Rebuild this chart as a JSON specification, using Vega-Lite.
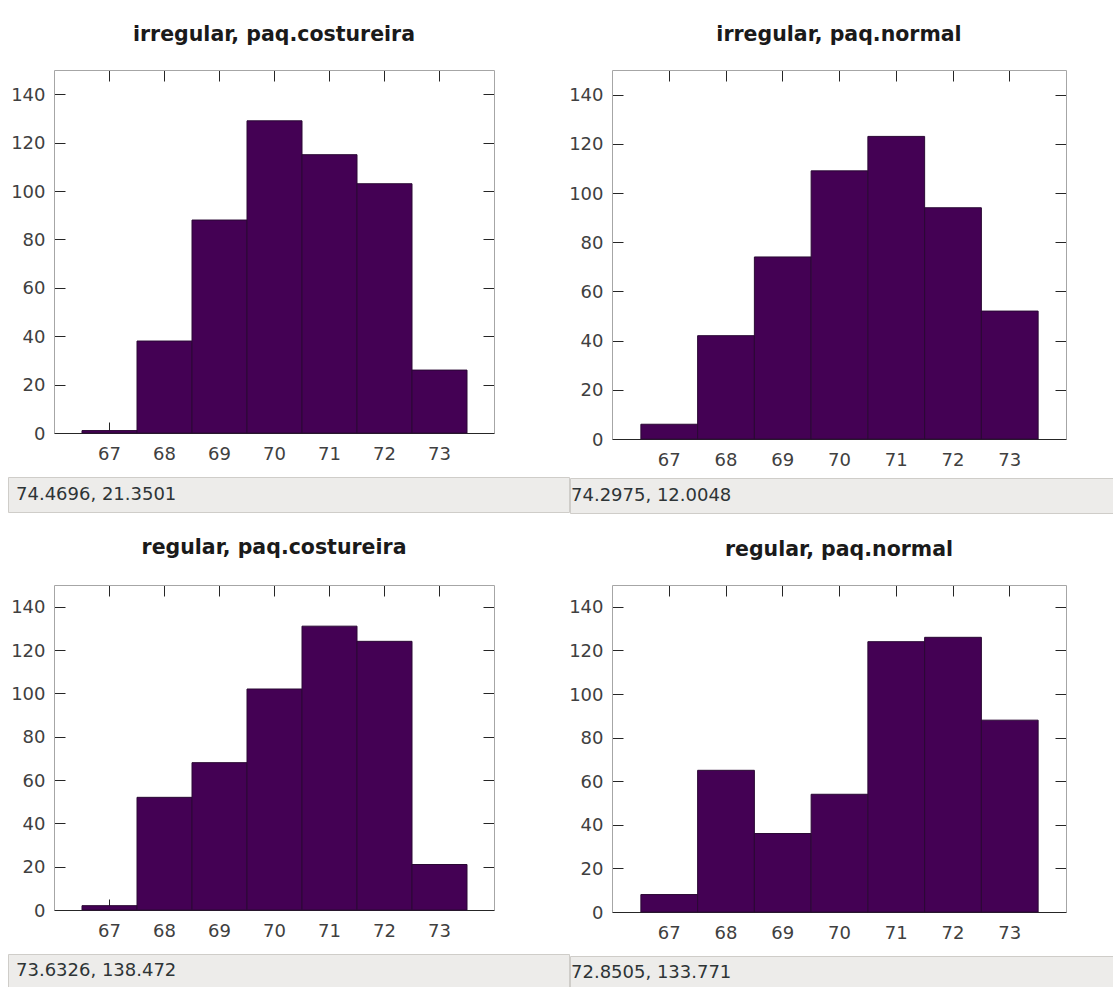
{
  "$schema": "https://vega.github.io/schema/vega-lite/v6.json",
  "padding": {"left": 7, "top": 25, "right": 0, "bottom": 0},
  "background": "white",
  "config": {
    "font": "DejaVu Sans",
    "view": {"stroke": null},
    "axis": {"grid": false, "title": null, "tickColor": "#262626", "tickWidth": 1, "labelColor": "#404040", "labelFontSize": 18, "labelFont": "DejaVu Sans", "domainColor": "#a6a6a6", "domainWidth": 1},
    "title": {"font": "DejaVu Sans", "fontSize": 20.5, "fontWeight": "bold", "color": "#1a1a1a", "frame": "group", "anchor": "middle", "baseline": "alphabetic", "offset": 26}
  },
  "datasets": {
    "bars": [
      {"panel": "irregular, paq.costureira", "bin_start": 66.5, "bin_end": 67.5, "count": 1},
      {"panel": "irregular, paq.costureira", "bin_start": 67.5, "bin_end": 68.5, "count": 38},
      {"panel": "irregular, paq.costureira", "bin_start": 68.5, "bin_end": 69.5, "count": 88},
      {"panel": "irregular, paq.costureira", "bin_start": 69.5, "bin_end": 70.5, "count": 129},
      {"panel": "irregular, paq.costureira", "bin_start": 70.5, "bin_end": 71.5, "count": 115},
      {"panel": "irregular, paq.costureira", "bin_start": 71.5, "bin_end": 72.5, "count": 103},
      {"panel": "irregular, paq.costureira", "bin_start": 72.5, "bin_end": 73.5, "count": 26},
      {"panel": "irregular, paq.normal", "bin_start": 66.5, "bin_end": 67.5, "count": 6},
      {"panel": "irregular, paq.normal", "bin_start": 67.5, "bin_end": 68.5, "count": 42},
      {"panel": "irregular, paq.normal", "bin_start": 68.5, "bin_end": 69.5, "count": 74},
      {"panel": "irregular, paq.normal", "bin_start": 69.5, "bin_end": 70.5, "count": 109},
      {"panel": "irregular, paq.normal", "bin_start": 70.5, "bin_end": 71.5, "count": 123},
      {"panel": "irregular, paq.normal", "bin_start": 71.5, "bin_end": 72.5, "count": 94},
      {"panel": "irregular, paq.normal", "bin_start": 72.5, "bin_end": 73.5, "count": 52},
      {"panel": "regular, paq.costureira", "bin_start": 66.5, "bin_end": 67.5, "count": 2},
      {"panel": "regular, paq.costureira", "bin_start": 67.5, "bin_end": 68.5, "count": 52},
      {"panel": "regular, paq.costureira", "bin_start": 68.5, "bin_end": 69.5, "count": 68},
      {"panel": "regular, paq.costureira", "bin_start": 69.5, "bin_end": 70.5, "count": 102},
      {"panel": "regular, paq.costureira", "bin_start": 70.5, "bin_end": 71.5, "count": 131},
      {"panel": "regular, paq.costureira", "bin_start": 71.5, "bin_end": 72.5, "count": 124},
      {"panel": "regular, paq.costureira", "bin_start": 72.5, "bin_end": 73.5, "count": 21},
      {"panel": "regular, paq.normal", "bin_start": 66.5, "bin_end": 67.5, "count": 8},
      {"panel": "regular, paq.normal", "bin_start": 67.5, "bin_end": 68.5, "count": 65},
      {"panel": "regular, paq.normal", "bin_start": 68.5, "bin_end": 69.5, "count": 36},
      {"panel": "regular, paq.normal", "bin_start": 69.5, "bin_end": 70.5, "count": 54},
      {"panel": "regular, paq.normal", "bin_start": 70.5, "bin_end": 71.5, "count": 124},
      {"panel": "regular, paq.normal", "bin_start": 71.5, "bin_end": 72.5, "count": 126},
      {"panel": "regular, paq.normal", "bin_start": 72.5, "bin_end": 73.5, "count": 88}
    ],
    "status": [
      {"panel": "irregular, paq.costureira", "status": "74.4696, 21.3501"},
      {"panel": "irregular, paq.normal", "status": "74.2975, 12.0048"},
      {"panel": "regular, paq.costureira", "status": "73.6326, 138.472"},
      {"panel": "regular, paq.normal", "status": "72.8505, 133.771"}
    ]
  },
  "spacing": 24,
  "vconcat": [
    {
      "spacing": -2,
      "hconcat": [
        {
          "spacing": 7,
          "vconcat": [
            {
              "width": 486, "height": 363,
              "title": {"text": "irregular, paq.costureira", "dx": 23, "offset": 24},
              "data": {"name": "bars"},
              "transform": [{"filter": "datum.panel === 'irregular, paq.costureira'"}],
              "resolve": {"axis": {"x": "independent", "y": "independent"}},
              "layer": [
                {
                  "mark": {"type": "bar", "fill": "#440154", "stroke": "#2a0834", "strokeWidth": 1, "binSpacing": 0},
                  "encoding": {
                    "x": {"field": "bin_start", "bin": "binned", "type": "quantitative", "scale": {"domain": [66, 74], "range": [46, 486], "nice": false, "zero": false},
                          "axis": {"orient": "bottom", "values": [67, 68, 69, 70, 71, 72, 73], "format": "d", "tickSize": -11, "labelPadding": 23.7, "labelFlush": false, "domainColor": "#262626", "minExtent": 36, "maxExtent": 36}},
                    "x2": {"field": "bin_end"},
                    "y": {"field": "count", "type": "quantitative", "scale": {"domain": [0, 150], "nice": false},
                          "axis": {"orient": "left", "offset": -46, "values": [0, 20, 40, 60, 80, 100, 120, 140], "tickSize": -11, "labelPadding": 20, "labelBaseline": "middle", "labelOffset": 1, "minExtent": 0, "maxExtent": 60}}
                  }
                },
                {
                  "mark": {"type": "bar", "opacity": 0, "binSpacing": 0},
                  "encoding": {
                    "x": {"field": "bin_start", "bin": "binned", "type": "quantitative", "axis": {"orient": "top", "values": [67, 68, 69, 70, 71, 72, 73], "labels": false, "tickSize": -11, "minExtent": 0, "maxExtent": 0}},
                    "x2": {"field": "bin_end"},
                    "y": {"field": "count", "type": "quantitative", "axis": {"orient": "right", "values": [0, 20, 40, 60, 80, 100, 120, 140], "labels": false, "tickSize": -11, "minExtent": 0, "maxExtent": 0}}
                  }
                }
              ]
            },
            {
              "width": 561, "height": 35,
              "view": {"fill": "#edecea", "stroke": "#cfcdc9"},
              "data": {"name": "status"},
              "transform": [{"filter": "datum.panel === 'irregular, paq.costureira'"}],
              "mark": {"type": "text", "align": "left", "baseline": "middle", "dx": 8, "fontSize": 18, "fill": "#2e3436"},
              "encoding": {
                "text": {"field": "status", "type": "nominal"},
                "x": {"field": "status", "type": "nominal", "axis": null, "scale": {"type": "point", "padding": 0, "align": 0}}
              }
            }
          ]
        },
        {
          "spacing": 2,
          "vconcat": [
            {
              "width": 496, "height": 369,
              "title": {"text": "irregular, paq.normal", "dx": 21, "offset": 24},
              "data": {"name": "bars"},
              "transform": [{"filter": "datum.panel === 'irregular, paq.normal'"}],
              "resolve": {"axis": {"x": "independent", "y": "independent"}},
              "layer": [
                {
                  "mark": {"type": "bar", "fill": "#440154", "stroke": "#2a0834", "strokeWidth": 1, "binSpacing": 0},
                  "encoding": {
                    "x": {"field": "bin_start", "bin": "binned", "type": "quantitative", "scale": {"domain": [66, 74], "range": [42, 496], "nice": false, "zero": false},
                          "axis": {"orient": "bottom", "values": [67, 68, 69, 70, 71, 72, 73], "format": "d", "tickSize": -11, "labelPadding": 23.7, "labelFlush": false, "domainColor": "#262626", "minExtent": 36, "maxExtent": 36}},
                    "x2": {"field": "bin_end"},
                    "y": {"field": "count", "type": "quantitative", "scale": {"domain": [0, 150], "nice": false},
                          "axis": {"orient": "left", "offset": -42, "values": [0, 20, 40, 60, 80, 100, 120, 140], "tickSize": -11, "labelPadding": 20, "labelBaseline": "middle", "labelOffset": 1, "minExtent": 0, "maxExtent": 60}}
                  }
                },
                {
                  "mark": {"type": "bar", "opacity": 0, "binSpacing": 0},
                  "encoding": {
                    "x": {"field": "bin_start", "bin": "binned", "type": "quantitative", "axis": {"orient": "top", "values": [67, 68, 69, 70, 71, 72, 73], "labels": false, "tickSize": -11, "minExtent": 0, "maxExtent": 0}},
                    "x2": {"field": "bin_end"},
                    "y": {"field": "count", "type": "quantitative", "axis": {"orient": "right", "values": [0, 20, 40, 60, 80, 100, 120, 140], "labels": false, "tickSize": -11, "minExtent": 0, "maxExtent": 0}}
                  }
                }
              ]
            },
            {
              "width": 543, "height": 35,
              "view": {"fill": "#edecea", "stroke": "#cfcdc9"},
              "data": {"name": "status"},
              "transform": [{"filter": "datum.panel === 'irregular, paq.normal'"}],
              "mark": {"type": "text", "align": "left", "baseline": "middle", "dx": 1, "fontSize": 18, "fill": "#2e3436"},
              "encoding": {
                "text": {"field": "status", "type": "nominal"},
                "x": {"field": "status", "type": "nominal", "axis": null, "scale": {"type": "point", "padding": 0, "align": 0}}
              }
            }
          ]
        }
      ]
    },
    {
      "spacing": -2,
      "hconcat": [
        {
          "spacing": 7,
          "vconcat": [
            {
              "width": 486, "height": 325,
              "title": {"text": "regular, paq.costureira", "dx": 23},
              "data": {"name": "bars"},
              "transform": [{"filter": "datum.panel === 'regular, paq.costureira'"}],
              "resolve": {"axis": {"x": "independent", "y": "independent"}},
              "layer": [
                {
                  "mark": {"type": "bar", "fill": "#440154", "stroke": "#2a0834", "strokeWidth": 1, "binSpacing": 0},
                  "encoding": {
                    "x": {"field": "bin_start", "bin": "binned", "type": "quantitative", "scale": {"domain": [66, 74], "range": [46, 486], "nice": false, "zero": false},
                          "axis": {"orient": "bottom", "values": [67, 68, 69, 70, 71, 72, 73], "format": "d", "tickSize": -11, "labelPadding": 23.7, "labelFlush": false, "domainColor": "#262626", "minExtent": 36, "maxExtent": 36}},
                    "x2": {"field": "bin_end"},
                    "y": {"field": "count", "type": "quantitative", "scale": {"domain": [0, 150], "nice": false},
                          "axis": {"orient": "left", "offset": -46, "values": [0, 20, 40, 60, 80, 100, 120, 140], "tickSize": -11, "labelPadding": 20, "labelBaseline": "middle", "labelOffset": 1, "minExtent": 0, "maxExtent": 60}}
                  }
                },
                {
                  "mark": {"type": "bar", "opacity": 0, "binSpacing": 0},
                  "encoding": {
                    "x": {"field": "bin_start", "bin": "binned", "type": "quantitative", "axis": {"orient": "top", "values": [67, 68, 69, 70, 71, 72, 73], "labels": false, "tickSize": -11, "minExtent": 0, "maxExtent": 0}},
                    "x2": {"field": "bin_end"},
                    "y": {"field": "count", "type": "quantitative", "axis": {"orient": "right", "values": [0, 20, 40, 60, 80, 100, 120, 140], "labels": false, "tickSize": -11, "minExtent": 0, "maxExtent": 0}}
                  }
                }
              ]
            },
            {
              "width": 561, "height": 34,
              "view": {"fill": "#edecea", "stroke": "#cfcdc9"},
              "data": {"name": "status"},
              "transform": [{"filter": "datum.panel === 'regular, paq.costureira'"}],
              "mark": {"type": "text", "align": "left", "baseline": "middle", "dx": 8, "fontSize": 18, "fill": "#2e3436"},
              "encoding": {
                "text": {"field": "status", "type": "nominal"},
                "x": {"field": "status", "type": "nominal", "axis": null, "scale": {"type": "point", "padding": 0, "align": 0}}
              }
            }
          ]
        },
        {
          "spacing": 7,
          "vconcat": [
            {
              "width": 496, "height": 327,
              "title": {"text": "regular, paq.normal", "offset": 24, "dx": 21},
              "data": {"name": "bars"},
              "transform": [{"filter": "datum.panel === 'regular, paq.normal'"}],
              "resolve": {"axis": {"x": "independent", "y": "independent"}},
              "layer": [
                {
                  "mark": {"type": "bar", "fill": "#440154", "stroke": "#2a0834", "strokeWidth": 1, "binSpacing": 0},
                  "encoding": {
                    "x": {"field": "bin_start", "bin": "binned", "type": "quantitative", "scale": {"domain": [66, 74], "range": [42, 496], "nice": false, "zero": false},
                          "axis": {"orient": "bottom", "values": [67, 68, 69, 70, 71, 72, 73], "format": "d", "tickSize": -11, "labelPadding": 23.7, "labelFlush": false, "domainColor": "#262626", "minExtent": 36, "maxExtent": 36}},
                    "x2": {"field": "bin_end"},
                    "y": {"field": "count", "type": "quantitative", "scale": {"domain": [0, 150], "nice": false},
                          "axis": {"orient": "left", "offset": -42, "values": [0, 20, 40, 60, 80, 100, 120, 140], "tickSize": -11, "labelPadding": 20, "labelBaseline": "middle", "labelOffset": 1, "minExtent": 0, "maxExtent": 60}}
                  }
                },
                {
                  "mark": {"type": "bar", "opacity": 0, "binSpacing": 0},
                  "encoding": {
                    "x": {"field": "bin_start", "bin": "binned", "type": "quantitative", "axis": {"orient": "top", "values": [67, 68, 69, 70, 71, 72, 73], "labels": false, "tickSize": -11, "minExtent": 0, "maxExtent": 0}},
                    "x2": {"field": "bin_end"},
                    "y": {"field": "count", "type": "quantitative", "axis": {"orient": "right", "values": [0, 20, 40, 60, 80, 100, 120, 140], "labels": false, "tickSize": -11, "minExtent": 0, "maxExtent": 0}}
                  }
                }
              ]
            },
            {
              "width": 543, "height": 34,
              "view": {"fill": "#edecea", "stroke": "#cfcdc9"},
              "data": {"name": "status"},
              "transform": [{"filter": "datum.panel === 'regular, paq.normal'"}],
              "mark": {"type": "text", "align": "left", "baseline": "middle", "dx": 1, "fontSize": 18, "fill": "#2e3436"},
              "encoding": {
                "text": {"field": "status", "type": "nominal"},
                "x": {"field": "status", "type": "nominal", "axis": null, "scale": {"type": "point", "padding": 0, "align": 0}}
              }
            }
          ]
        }
      ]
    }
  ]
}
